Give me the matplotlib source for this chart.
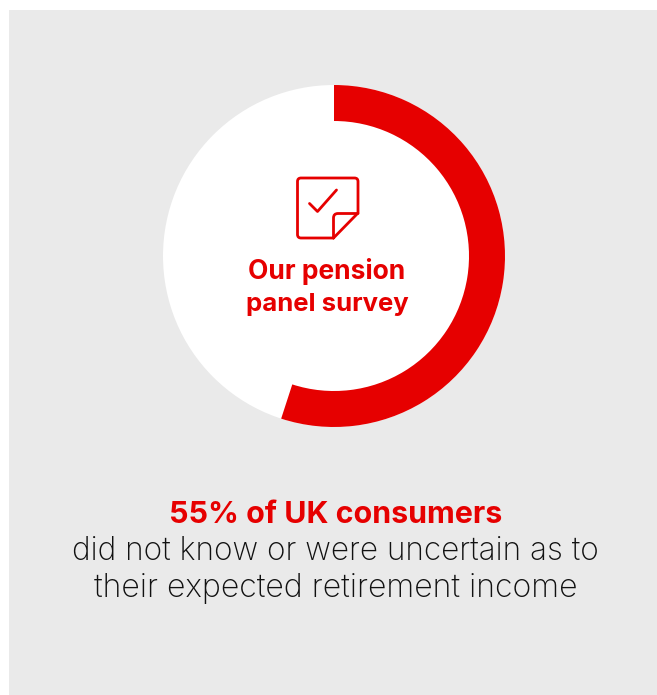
import matplotlib
matplotlib.use("Agg")
import matplotlib.pyplot as plt
from matplotlib.patches import Circle, Rectangle, PathPatch
from matplotlib.path import Path

share_values = [55, 45]
center_label = ["Our pension", "panel survey"]
headline = "55% of UK consumers"
body_lines = ["did not know or were uncertain as to", "their expected retirement income"]

RED = "#E60000"
GREY = "#EAEAEA"
W, H = 657, 695

fig = plt.figure(figsize=(W / 100, H / 100), dpi=100, facecolor="white")
ax = fig.add_axes([0, 0, 1, 1])

def Y(py):
    return H - py

ax.add_patch(Rectangle((9, 0), W, Y(10), fc=GREY, ec="none", zorder=0))
ax.add_patch(Circle((334, Y(256)), 171, fc="white", ec="none", zorder=1))
wedges, _ = ax.pie(share_values, colors=[RED, "white"], startangle=90, counterclock=False,
                   radius=171, center=(334, Y(256)), frame=True,
                   wedgeprops=dict(width=36, linewidth=0))
wedges[1].set_visible(False)
for w in wedges:
    w.set_zorder(2)

# document icon
lw = 2.0
verts = [(333.5, 238), (301, 238), (297.5, 238), (297.5, 234.5), (297.5, 181.5), (297.5, 178), (301, 178),
         (354.5, 178), (358, 178), (358, 181.5), (358, 213), (333.5, 238)]
codes = [Path.MOVETO, Path.LINETO, Path.CURVE3, Path.CURVE3, Path.LINETO, Path.CURVE3, Path.CURVE3,
         Path.LINETO, Path.CURVE3, Path.CURVE3, Path.LINETO, Path.LINETO]
ax.add_patch(PathPatch(Path([(x, Y(y)) for x, y in verts], codes), fc="none", ec=RED, lw=lw,
                       capstyle="round", joinstyle="round", zorder=3))
fold = [(333.5, 238), (333.5, 218), (333.5, 213.5), (338, 213.5), (358, 213.5)]
fold_codes = [Path.MOVETO, Path.LINETO, Path.CURVE3, Path.CURVE3, Path.LINETO]
ax.add_patch(PathPatch(Path([(x, Y(y)) for x, y in fold], fold_codes), fc="none", ec=RED, lw=lw,
                       capstyle="round", joinstyle="round", zorder=3))
check = [(309.5, 203.5), (317.5, 211.5), (336.5, 190)]
ax.plot([p[0] for p in check], [Y(p[1]) for p in check], color=RED, lw=lw,
        solid_capstyle="round", solid_joinstyle="round", zorder=3)

bold = dict(family="Inter", weight="bold", color=RED, ha="center", va="center", zorder=4)
ax.text(327, Y(271.5), center_label[0], fontsize=19.0, **bold)
ax.text(327, Y(304), center_label[1], fontsize=18.5, **bold)
ax.text(336, Y(515), headline, fontsize=21.9, **bold)

light = dict(family="Inter", weight="light", color="#111111", ha="center", va="center", zorder=4)
ax.text(335.5, Y(551.5), body_lines[0], fontsize=22.7, **light)
ax.text(336, Y(588), body_lines[1], fontsize=23.1, **light)

ax.set_xlim(0, W)
ax.set_ylim(0, H)
ax.set_aspect("auto")
ax.axis("off")
fig.savefig("out.png", dpi=100, facecolor="white")
